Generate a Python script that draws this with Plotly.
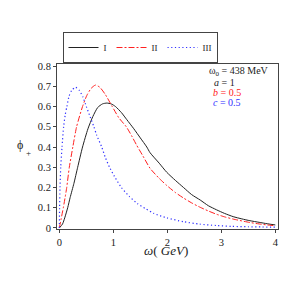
import plotly.graph_objects as go

# Curve I (black solid)
w_I = [0, 0.06, 0.1, 0.155, 0.2, 0.27, 0.34, 0.43, 0.53, 0.62, 0.71, 0.8, 0.88, 0.96, 1.04, 1.15, 1.25, 1.38,
       1.5, 1.62, 1.68, 1.85, 1.99, 2.15, 2.3, 2.45, 2.61, 2.76, 2.91, 3.06, 3.22, 3.38, 3.53, 3.7, 3.85, 4.0]
phi_I = [0, 0.02, 0.05, 0.1, 0.15, 0.22, 0.30, 0.40, 0.49, 0.55, 0.595, 0.613, 0.617, 0.613, 0.60, 0.57, 0.535, 0.49,
         0.445, 0.40, 0.372, 0.32, 0.275, 0.235, 0.20, 0.165, 0.138, 0.11, 0.09, 0.072, 0.056, 0.045, 0.036, 0.028, 0.021, 0.015]

# Curve II (red dash-dot)
w_II = [0, 0.03, 0.074, 0.11, 0.137, 0.185, 0.25, 0.32, 0.43, 0.51, 0.59, 0.67, 0.75, 0.85, 0.98, 1.1, 1.24, 1.34,
        1.43, 1.55, 1.68, 1.85, 1.99, 2.15, 2.3, 2.45, 2.61, 2.76, 2.91, 3.06, 3.22, 3.38, 3.53, 3.7, 3.85, 4.0]
phi_II = [0, 0.04, 0.1, 0.155, 0.2, 0.3, 0.4, 0.5, 0.6, 0.655, 0.69, 0.706, 0.695, 0.66, 0.60, 0.545, 0.5, 0.455,
          0.41, 0.355, 0.295, 0.245, 0.21, 0.175, 0.148, 0.124, 0.102, 0.084, 0.068, 0.055, 0.044, 0.035, 0.027, 0.02, 0.015, 0.011]

# Curve III (blue dotted)
w_III = [0, 0.005, 0.013, 0.026, 0.05, 0.08, 0.11, 0.14, 0.18, 0.23, 0.30, 0.37, 0.44, 0.50, 0.57, 0.64, 0.69,
         0.785, 0.85, 0.93, 1.02, 1.15, 1.3, 1.45, 1.6, 1.75, 1.99, 2.3, 2.6, 2.91, 3.2, 3.5, 3.75, 4.0]
phi_III = [0, 0.1, 0.2, 0.3, 0.4, 0.5, 0.56, 0.6, 0.65, 0.68, 0.695, 0.68, 0.645, 0.6, 0.55, 0.5, 0.46,
           0.4, 0.35, 0.3, 0.255, 0.2, 0.155, 0.12, 0.095, 0.072, 0.05, 0.031, 0.019, 0.012, 0.008, 0.006, 0.005, 0.004]

names = ["I", "II", "III"]
x_ticks = [0, 1, 2, 3, 4]
y_ticks = [0, 0.1, 0.2, 0.3, 0.4, 0.5, 0.6, 0.7, 0.8]

SERIF = "Liberation Serif, Times New Roman, serif"
BODY = 8  # default page margin of the html body

fig = go.Figure()
fig.add_trace(go.Scatter(x=w_I, y=phi_I, mode="lines", name=names[0],
                         line=dict(color="#222222", width=1, shape="spline", smoothing=0.6)))
fig.add_trace(go.Scatter(x=w_II, y=phi_II, mode="lines", name=names[1],
                         line=dict(color="#ff2020", width=1, dash="6px,2px,2px,2px", shape="spline", smoothing=0.6)))
fig.add_trace(go.Scatter(x=w_III, y=phi_III, mode="lines", name=names[2],
                         line=dict(color="#3030ff", width=1.2, dash="1.2px,2.5px", shape="spline", smoothing=0.6)))

axis_common = dict(showline=True, linecolor="#444444", linewidth=1, mirror=True,
                   ticks="outside", ticklen=3, tickcolor="#444444", showgrid=False, zeroline=False,
                   tickfont=dict(family=SERIF, size=10.5, color="#222222"))

fig.update_xaxes(range=[-0.043, 4.05], tickvals=x_ticks, ticktext=[str(t) for t in x_ticks], **axis_common)
fig.update_yaxes(range=[-0.005, 0.81], tickvals=y_ticks, ticktext=[("0" if t == 0 else f"{t:.1f}") for t in y_ticks],
                 **axis_common)

# plot area on screen: x 57..278, y 64..229
def px(xp):
    return (xp - 57) / 221.0

def py(yp):
    return (229 - yp) / 165.0

ann = [
    dict(text="ω<sub>0</sub> = 438 MeV", x=px(207), y=py(71.5), xanchor="left", yanchor="middle",
         font=dict(family=SERIF, size=10, color="#222222")),
    dict(text="<i>a</i> = 1", x=px(212), y=py(82.5), xanchor="left", yanchor="middle",
         font=dict(family=SERIF, size=10, color="#222222")),
    dict(text="<i>b</i> = 0.5", x=px(211), y=py(92.5), xanchor="left", yanchor="middle",
         font=dict(family=SERIF, size=10, color="#ff2020")),
    dict(text="<i>c</i> = 0.5", x=px(211), y=py(102.5), xanchor="left", yanchor="middle",
         font=dict(family=SERIF, size=10, color="#3030ff")),
    dict(text="ϕ", x=px(20), y=py(145), xanchor="center", yanchor="middle",
         font=dict(family=SERIF, size=12, color="#222222")),
    dict(text="+", x=px(28), y=py(153), xanchor="center", yanchor="middle",
         font=dict(family=SERIF, size=9, color="#222222")),
    dict(text="<i>ω</i>( <i>GeV</i>)", x=px(166), y=py(250), xanchor="center", yanchor="middle",
         font=dict(family=SERIF, size=13, color="#222222")),
]
for a in ann:
    a.update(xref="paper", yref="paper", showarrow=False)

fig.update_layout(
    width=300, height=300,
    margin=dict(l=57 - BODY, r=300 - 278 + BODY, t=64 - BODY, b=300 - 229 + BODY),
    paper_bgcolor="white", plot_bgcolor="white",
    showlegend=True,
    legend=dict(orientation="h", x=px(140), y=py(63), xanchor="center", yanchor="bottom",
                bordercolor="#444444", borderwidth=1, bgcolor="white",
                font=dict(family=SERIF, size=9, color="#222222"),
                itemwidth=30, tracegroupgap=0),
    annotations=ann,
)

fig.write_html("out.html")
